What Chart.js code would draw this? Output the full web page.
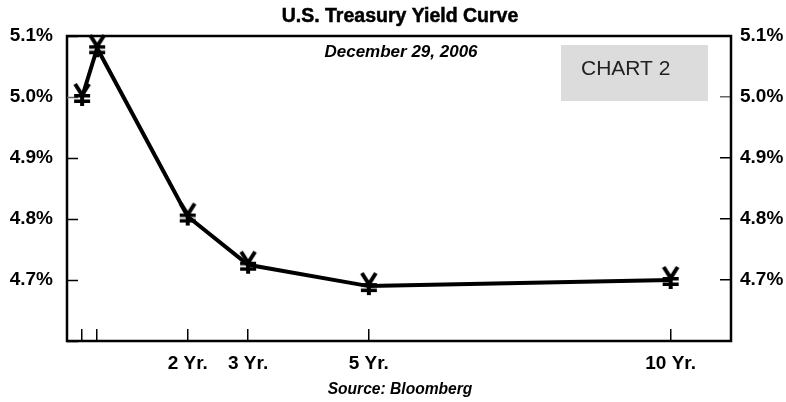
<!DOCTYPE html>
<html>
<head>
<meta charset="utf-8">
<script src="https://cdn.jsdelivr.net/npm/chart.js@4.4.1/dist/chart.umd.min.js"></script>
<style>
  html, body { margin: 0; padding: 0; background: #fff; }
  #wrap { width: 786px; height: 402px; }
</style>
</head>
<body>
<div id="wrap"><canvas id="yieldChart" width="786" height="402"></canvas></div>
<script>
// maturities in years, yields in percent
var maturities = [0.25, 0.5, 2, 3, 5, 10];
var yields = [5.0, 5.08, 4.804, 4.725, 4.69, 4.70];

var xTicks = [0.25, 0.5, 2, 3, 5, 10];
var xTickLabels = ['', '', '2 Yr.', '3 Yr.', '5 Yr.', '10 Yr.'];
var yTicks = [4.6, 4.7, 4.8, 4.9, 5.0, 5.1];

var FONT = '"Liberation Sans", Arial, sans-serif';

// the yen-like marker of the original
function makeMarker() {
    var c = document.createElement('canvas');
    c.width = 20;
    c.height = 44;
    var g = c.getContext('2d');
    g.strokeStyle = '#000';
    g.fillStyle = '#000';
    g.lineWidth = 4;
    g.beginPath();
    g.moveTo(3, 9); g.lineTo(10, 20); g.lineTo(17, 9);
    g.moveTo(10, 19); g.lineTo(10, 31);
    g.stroke();
    g.fillRect(2, 19, 16, 3.5);
    g.fillRect(2, 24.5, 16, 3.5);
    return c;
}

var points = [];
for (var i = 0; i < maturities.length; ++i) {
    points.push({ x: maturities[i], y: yields[i] });
}

function yLabel(v) {
    return v > 4.65 ? v.toFixed(1) + '%' : '';
}

function tickColor(ctx) {
    return ctx.tick && Math.abs(ctx.tick.value - 5.0) < 1e-6 ? '#666' : '#000';
}

var decor = {
    id: 'decor',
    beforeDatasetsDraw: function (chart) {
        var ctx = chart.ctx, a = chart.chartArea;
        ctx.save();
        // label box
        ctx.fillStyle = '#dcdcdc';
        ctx.fillRect(561, 45, 147, 56);
        ctx.fillStyle = '#222';
        ctx.font = '21px ' + FONT;
        ctx.textAlign = 'left';
        ctx.textBaseline = 'middle';
        ctx.fillText('CHART 2', 581, 69);
        // frame
        ctx.strokeStyle = '#000';
        ctx.lineWidth = 2.5;
        ctx.strokeRect(a.left, a.top, a.right - a.left, a.bottom - a.top);
        // inward ticks of the left axis
        var ys = chart.scales.y;
        ctx.lineWidth = 1.5;
        for (var k = 0; k < yTicks.length; ++k) {
            var py = Math.round(ys.getPixelForValue(yTicks[k])) + 0.5;
            ctx.strokeStyle = Math.abs(yTicks[k] - 5.0) < 1e-6 ? '#666' : '#000';
            ctx.beginPath();
            ctx.moveTo(a.left, py);
            ctx.lineTo(a.left + 11, py);
            ctx.stroke();
        }
        ctx.restore();
    },
    afterDraw: function (chart) {
        var ctx = chart.ctx;
        ctx.save();
        ctx.fillStyle = '#000';
        ctx.strokeStyle = '#000';
        ctx.lineWidth = 0.5;
        ctx.textAlign = 'center';
        ctx.textBaseline = 'middle';
        ctx.font = 'bold 19.5px ' + FONT;
        ctx.fillText('U.S. Treasury Yield Curve', 400, 17);
        ctx.strokeText('U.S. Treasury Yield Curve', 400, 17);
        ctx.font = 'italic bold 17px ' + FONT;
        ctx.fillText('December 29, 2006', 401, 52);
        ctx.font = 'italic bold 15.6px ' + FONT;
        ctx.fillText('Source: Bloomberg', 400, 390);
        ctx.restore();
    }
};

var chart = new Chart(document.getElementById('yieldChart').getContext('2d'), {
    type: 'line',
    data: {
        datasets: [{
            label: 'Yield',
            data: points,
            borderColor: '#000',
            borderWidth: 4,
            tension: 0,
            fill: false,
            clip: false,
            pointStyle: makeMarker(),
            pointRadius: 10,
            pointHoverRadius: 10
        }]
    },
    options: {
        responsive: false,
        animation: false,
        events: [],
        layout: { padding: { top: 36, left: 0, right: 0, bottom: 0 } },
        plugins: {
            legend: { display: false },
            tooltip: { enabled: false }
        },
        scales: {
            x: {
                type: 'linear',
                position: 'bottom',
                min: 0,
                max: 11,
                afterBuildTicks: function (s) {
                    s.ticks = xTicks.map(function (v) { return { value: v }; });
                },
                afterFit: function (s) { s.height = 61; },
                ticks: {
                    autoSkip: false,
                    maxRotation: 0,
                    padding: 23,
                    color: '#000',
                    font: { family: FONT, size: 19, weight: 'bold' },
                    callback: function (v) {
                        var k = xTicks.indexOf(v);
                        return k >= 0 ? xTickLabels[k] : '';
                    }
                },
                grid: { drawOnChartArea: false, tickLength: -12, color: '#000', lineWidth: 1.5 },
                border: { display: false }
            },
            y: {
                type: 'linear',
                position: 'left',
                min: 4.6,
                max: 5.1,
                afterBuildTicks: function (s) {
                    s.ticks = yTicks.map(function (v) { return { value: v }; });
                },
                afterFit: function (s) { s.width = 67; },
                ticks: {
                    padding: 14,
                    color: '#000',
                    font: { family: FONT, size: 19, weight: 'bold' },
                    callback: yLabel
                },
                grid: { display: false, drawTicks: false },
                border: { display: false }
            },
            y2: {
                type: 'linear',
                position: 'right',
                min: 4.6,
                max: 5.1,
                afterBuildTicks: function (s) {
                    s.ticks = yTicks.map(function (v) { return { value: v }; });
                },
                afterFit: function (s) { s.width = 55; },
                ticks: {
                    padding: 20,
                    color: '#000',
                    font: { family: FONT, size: 19, weight: 'bold' },
                    callback: yLabel
                },
                grid: { drawOnChartArea: false, tickLength: -11, color: tickColor, lineWidth: 1.5 },
                border: { display: false }
            }
        }
    },
    plugins: [decor]
});
</script>
</body>
</html>
